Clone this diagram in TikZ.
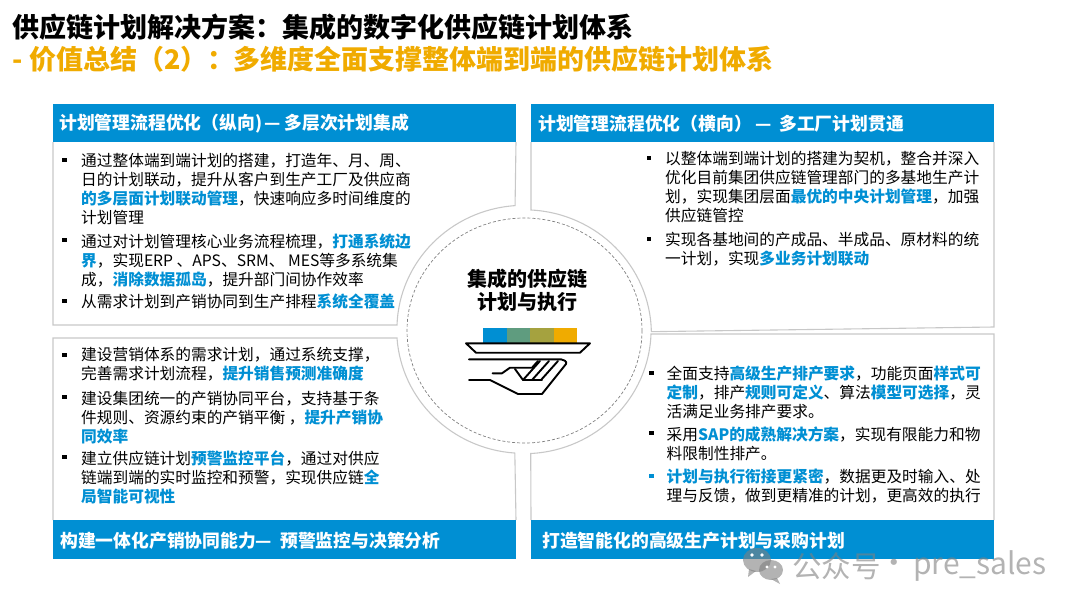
\documentclass[tikz,border=0pt]{standalone}
\usepackage{fontspec}
\setmainfont{Noto Sans CJK SC}
\definecolor{sapblue}{HTML}{008FD3}
\definecolor{sapgreen}{HTML}{5F9C7F}
\definecolor{sapolive}{HTML}{A5A23F}
\definecolor{saporange}{HTML}{F0AB00}
\definecolor{panelgray}{HTML}{C8C8C8}
\newcommand{\keytxt}[1]{\textcolor{sapblue}{\bfseries #1}}
\tikzset{
	panelline/.style={draw=panelgray,line width=1.1pt},
	headtxt/.style={text=white,anchor=west,inner sep=0pt,font=\fontsize{17.8}{20}\selectfont\bfseries},
	bodytxt/.style={anchor=north west,inner sep=0pt,align=left,font=\fontsize{15.7}{19}\selectfont},
	bulletdot/.style={fill=black,inner sep=0pt,minimum size=4.2pt},
	handline/.style={line width=1.9pt,line join=round,line cap=round},
	marktxt/.style={anchor=west,inner sep=0pt,text=gray}
}
\begin{document}
\begin{tikzpicture}[x=1pt,y=-1pt]
	\useasboundingbox (0,0) rectangle (1080,608);
	% titles
	\node[anchor=west,inner sep=0pt,font=\fontsize{27}{30}\selectfont\bfseries] (titleMain) at (12,27) {供应链计划解决方案：集成的数字化供应链计划体系};
	\node[anchor=west,inner sep=0pt,text=saporange,font=\fontsize{27}{30}\selectfont\bfseries] (titleSub) at (12.5,59) {- 价值总结（2）：\hspace{-1.5pt}多维度全面支撑整体端到端的供应链计划体系};
	% panels
	\draw[panelline] (53,142) -- (53,325) -- (397,325) arc[start angle=182,end angle=266,x radius=127,y radius=124] -- (516,142);
	\draw[panelline] (531,142) -- (531,210) arc[start angle=273,end angle=359,x radius=127,y radius=124] -- (994,327) -- (994,142);
	\draw[panelline] (53,520) -- (53,338) -- (397,338) arc[start angle=176,end angle=94,x radius=127,y radius=124] -- (516,520);
	\draw[panelline] (994,520) -- (994,334) -- (651,334) arc[start angle=2,end angle=87,x radius=127,y radius=124] -- (531,520);
	\fill[sapblue] (53,104) rectangle (516,142);
	\fill[sapblue] (531,104) rectangle (994,142);
	\fill[sapblue] (53,520) rectangle (516,559);
	\fill[sapblue] (531,520) rectangle (994,559);
	\node[headtxt] (headLT) at (59,124) {计划管理流程优化（纵向)\hspace{2pt}—\hspace{4pt}多层次计划集成};
	\node[headtxt] (headRT) at (538,124) {计划管理流程优化（横向） —\hspace{3pt} 多工厂计划贯通};
	\node[headtxt] (headLB) at (60,541) {构建一体化产销协同能力—\hspace{4pt} 预警监控与决策分析};
	\node[headtxt] (headRB) at (542,541) {打造智能化的高级生产计划与采购计划};
	% upper left
	\node[bulletdot] (dotLT1) at (64.5,160) {};
	\node[bodytxt] (textLT1) at (81,153) {通过整体端到端计划的搭建，打造年、月、周、\\日的计划联动，提升从客户到生产工厂及供应商\\\keytxt{的多层面计划联动管理}，快速响应多时间维度的\\计划管理};
	\node[bulletdot] (dotLT2) at (64.5,240) {};
	\node[bodytxt] (textLT2) at (81,234) {通过对计划管理核心业务流程梳理，\keytxt{打通系统边}\\\keytxt{界}，实现ERP 、APS、SRM、 MES等多系统集\\成，\keytxt{消除数据孤岛}，提升部门间协作效率};
	\node[bulletdot] (dotLT3) at (64.5,301) {};
	\node[bodytxt] (textLT3) at (81,294) {从需求计划到产销协同到生产排程\keytxt{系统全覆盖}};
	% upper right
	\node[bulletdot] (dotRT1) at (649,158) {};
	\node[bodytxt] (textRT1) at (665,151) {以整体端到端计划的搭建为契机，整合并深入\\优化目前集团供应链管理部门的多基地生产计\\划，实现集团层面\keytxt{最优的中央计划管理}，加强\\供应链管控};
	\node[bulletdot] (dotRT2) at (649,239) {};
	\node[bodytxt] (textRT2) at (665,232) {实现各基地间的产成品、半成品、原材料的统\\一计划，实现\keytxt{多业务计划联动}};
	% lower left
	\node[bulletdot] (dotLB1) at (64.5,355) {};
	\node[bodytxt] (textLB1) at (81,347) {建设营销体系的需求计划，通过系统支撑，\\完善需求计划流程，\keytxt{提升销售预测准确度}};
	\node[bulletdot] (dotLB2) at (64.5,397) {};
	\node[bodytxt] (textLB2) at (81,391) {建设集团统一的产销协同平台，支持基于条\\件规则、资源约束的产销平衡 ，\keytxt{提升产销协}\\\keytxt{同效率}};
	\node[bulletdot] (dotLB3) at (64.5,457) {};
	\node[bodytxt] (textLB3) at (81,450) {建立供应链计划\keytxt{预警监控平台}，通过对供应\\链端到端的实时监控和预警，实现供应链\keytxt{全}\\\keytxt{局智能可视性}};
	% lower right
	\node[bulletdot] (dotRB1) at (651.5,373) {};
	\node[bodytxt] (textRB1) at (666.5,366) {全面支持\keytxt{高级生产排产要求}，功能页面\keytxt{样式可}\\\keytxt{定制}，排产\keytxt{规则可定义}、算法\keytxt{模型可选择}，灵\\活满足业务排产要求。};
	\node[bulletdot] (dotRB2) at (651.5,433) {};
	\node[bodytxt] (textRB2) at (666.5,427) {采用\keytxt{SAP的成熟解决方案}，实现有限能力和物\\料限制性排产。};
	\node[bulletdot,fill=sapblue] (dotRB3) at (651.5,476) {};
	\node[bodytxt] (textRB3) at (666.5,469) {\keytxt{计划与执行衔接更紧密}，数据更及时输入、处\\理与反馈，做到更精准的计划，更高效的执行};
	% centre
	\draw[densely dashed,gray,line width=0.7pt] (524.5,330.5) ellipse[x radius=117.5,y radius=112.5];
	\node[inner sep=0pt,align=center,font=\fontsize{20}{23}\selectfont\bfseries] (centreTxt) at (527,290.5) {集成的供应链\\计划与执行};
	\fill[sapblue] (483,328) rectangle (506.5,343);
	\fill[sapgreen] (506.5,328) rectangle (530,343);
	\fill[sapolive] (530,328) rectangle (553.5,343);
	\fill[saporange] (553.5,328) rectangle (577,343);
	% tray and hand
	\draw[handline] (466,343.3) -- (590,343.3) -- (580,352.7) -- (476,352.7) -- cycle;
	\draw[handline] (469,359.3) -- (561,359.3) to[out=0,in=60] (566,364) -- (542,394) -- (518,394) -- (490,380) -- (469,380);
	\draw[handline] (492.5,373.3) -- (502,373.3) -- (510,367.7) -- (532,367.7) -- (538,361);
	\draw[handline] (515,369) -- (523,380) -- (542,380);
	\draw[handline] (523,380) -- (540,361);
	\draw[handline] (532,380) -- (549,361);
	\draw[handline] (541,380) -- (558,361);
	% watermark
	\begin{scope}[opacity=0.6]
		\fill[gray] (757,560) ellipse[x radius=14,y radius=12];
		\fill[gray] (771,570) ellipse[x radius=12,y radius=10];
		\fill[gray] (749,569) -- (748,577) -- (756,571) -- cycle;
		\fill[gray] (777,578) -- (780,584) -- (771,579) -- cycle;
		\node[marktxt,font=\fontsize{29.5}{32}\selectfont] (markTxt) at (792,566) {公众号};
		\node[marktxt,font=\fontsize{29.5}{32}\selectfont] (markDot) at (879,566) {·};
		\node[marktxt,font=\fontsize{30}{32}\selectfont] (markName) at (913,566) {pre\_sales};
	\end{scope}
	\fill[white] (752,555) circle (1.8);
	\fill[white] (762,555) circle (1.8);
	\fill[white] (767,567) circle (1.6);
	\fill[white] (775,567) circle (1.6);
\end{tikzpicture}
\end{document}
